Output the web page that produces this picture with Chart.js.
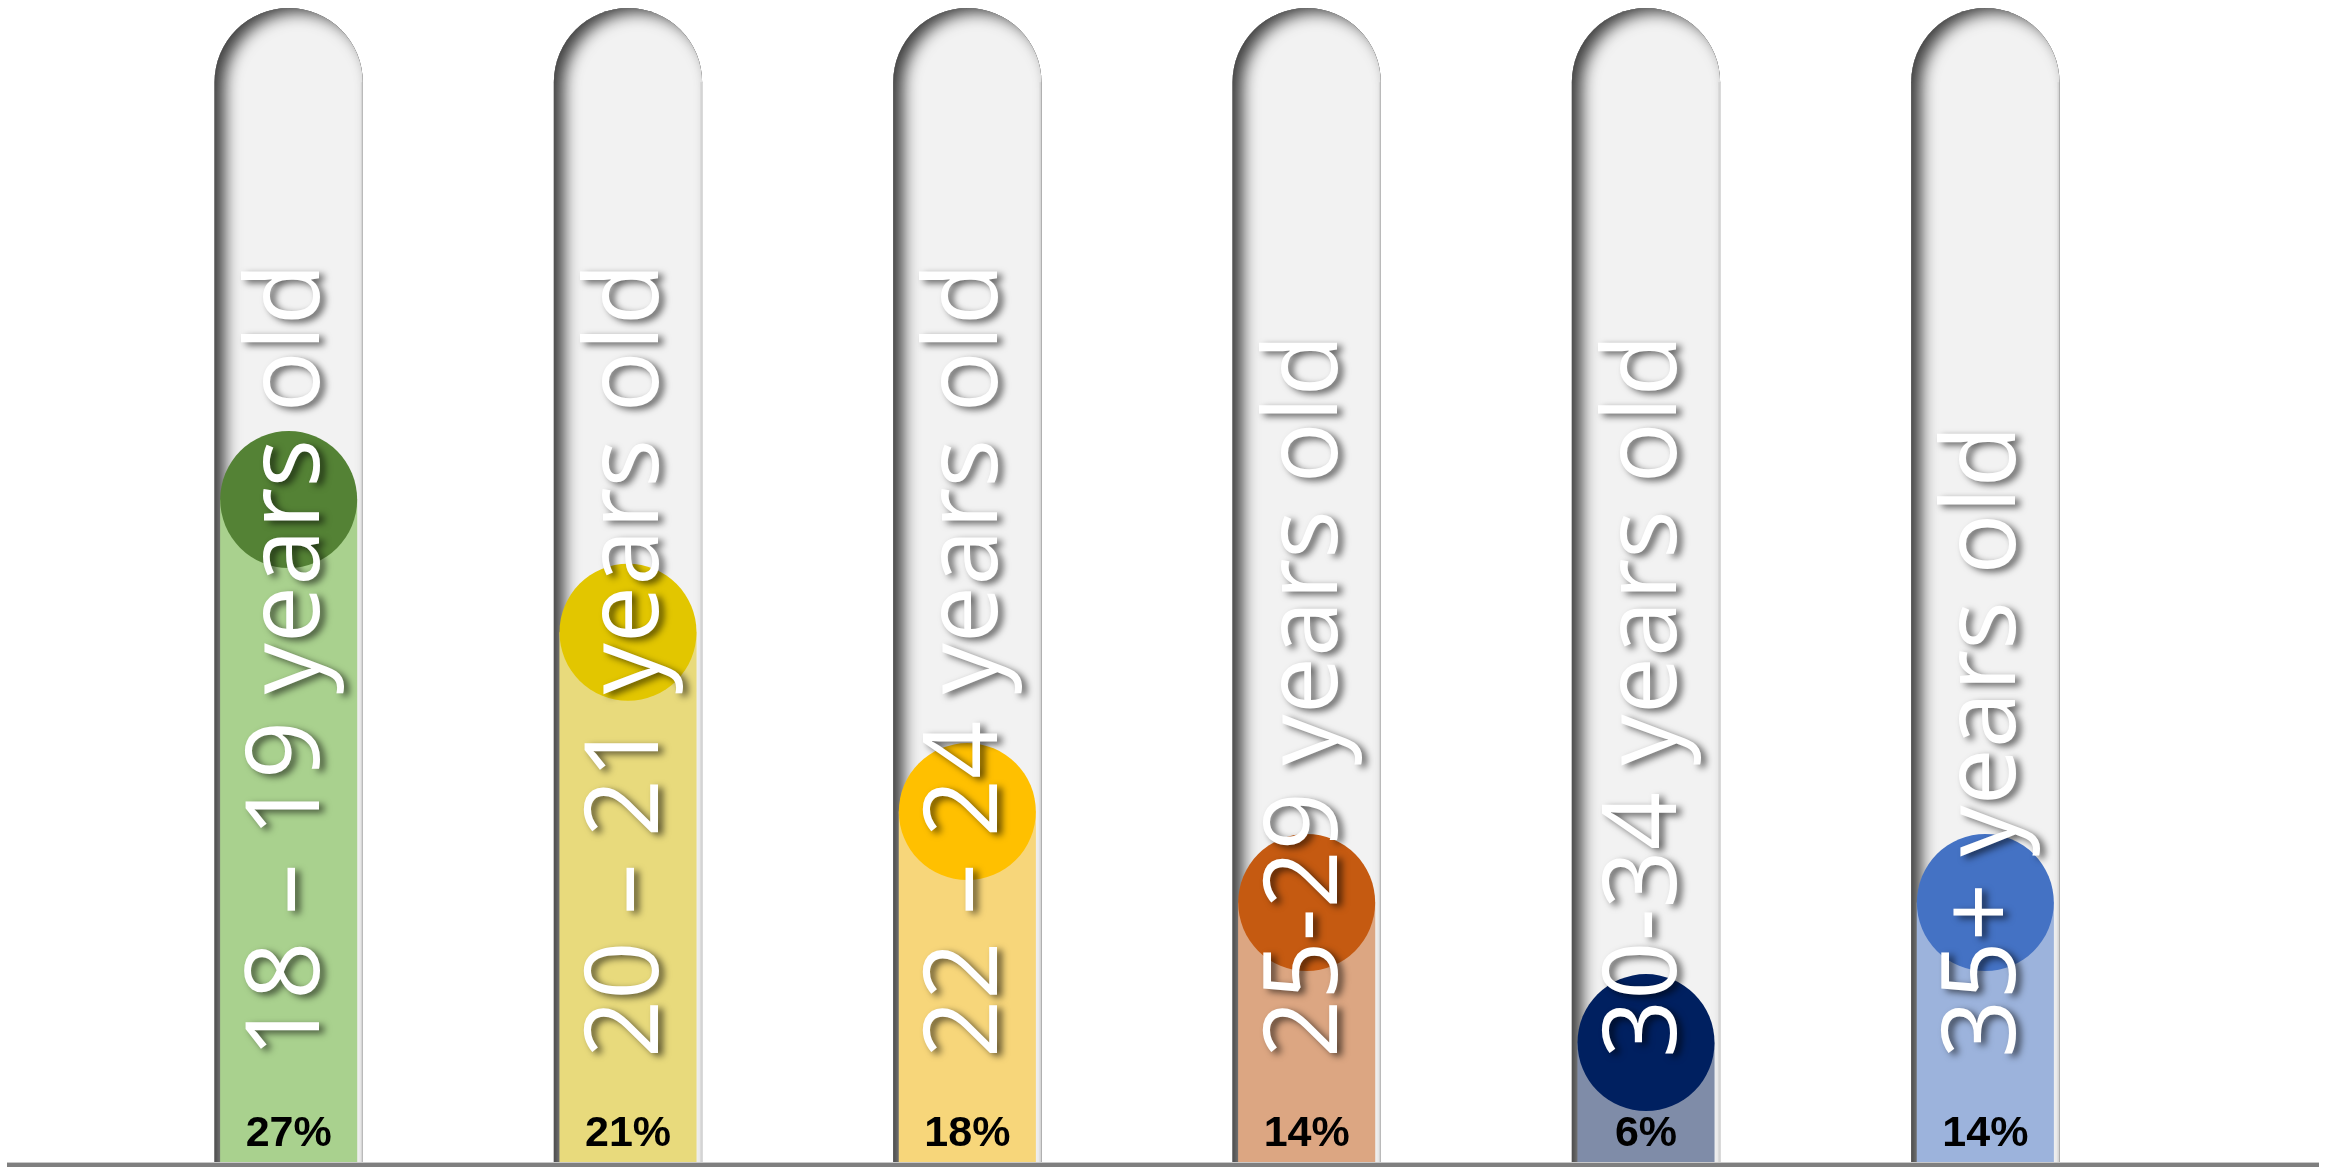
<!DOCTYPE html>
<html><head><meta charset="utf-8">
<script src="https://cdn.jsdelivr.net/npm/chart.js@4.4.0/dist/chart.umd.min.js"></script>
<style>html,body{margin:0;padding:0;background:#fff;overflow:hidden}canvas{display:block}</style>
</head><body>
<canvas id="c" width="2338" height="1167"></canvas>
<script>
// ---- data ----
const categories = ['18 – 19 years old', '20 – 21 years old', '22 – 24 years old', '25-29 years old', '30-34 years old', '35+ years old'];
const shareLabels = ['27%', '21%', '18%', '14%', '6%', '14%'];
const fillLevels = [27, 21.6, 14.3, 10.6, 4.9, 10.6];
const tubeLevels = [47, 47, 47, 47, 47, 47];
const fillColors = ['#a9d18e', '#e8da7c', '#f7d67a', '#dca682', '#7f8ca8', '#9cb3dc'];
const dotColors = ['#548235', '#e2c600', '#ffc000', '#c55a11', '#002060', '#4472c4'];

function tubePath(ctx, x, y, w, base) {
  const r = w / 2;
  ctx.moveTo(x - r, base);
  ctx.lineTo(x - r, y + r);
  ctx.arc(x, y + r, r, Math.PI, 0);
  ctx.lineTo(x + r, base);
  ctx.closePath();
}

const innerShadow = {
  id: 'innerShadow',
  afterDatasetDraw(chart, args) {
    if (args.index !== 0) return;
    const ctx = chart.ctx;
    args.meta.data.forEach(el => {
      const p = el.getProps(['x', 'y', 'base', 'width'], true);
      ctx.save();
      ctx.beginPath();
      tubePath(ctx, p.x, p.y, p.width, p.base);
      ctx.clip();
      ctx.beginPath();
      ctx.rect(-5000, -5000, 10000, 10000);
      tubePath(ctx, p.x, p.y, p.width, p.base + 200);
      ctx.shadowColor = 'rgba(0,0,0,0.75)';
      ctx.shadowBlur = 16;
      ctx.shadowOffsetX = 10;
      ctx.shadowOffsetY = 4;
      ctx.fillStyle = '#000';
      ctx.fill('evenodd');
      ctx.restore();
      // faint right edge
      ctx.save();
      ctx.fillStyle = 'rgba(0,0,0,0.06)';
      ctx.fillRect(p.x + p.width / 2 - 2, p.y + p.width / 2, 2, p.base - p.y - p.width / 2);
      ctx.restore();
    });
  }
};

const labelsPlugin = {
  id: 'labelsPlugin',
  afterDatasetsDraw(chart) {
    const ctx = chart.ctx;
    const meta = chart.getDatasetMeta(0);
    meta.data.forEach((el, i) => {
      const x = el.x;
      ctx.save();
      ctx.translate(x + 30, 1058);
      ctx.rotate(-Math.PI / 2);
      ctx.font = '102px "Open Sans"';
      ctx.textAlign = 'left';
      ctx.textBaseline = 'alphabetic';
      ctx.fillStyle = '#ffffff';
      ctx.shadowColor = 'rgba(0,0,0,0.6)';
      ctx.shadowBlur = 7;
      ctx.shadowOffsetX = 5;
      ctx.shadowOffsetY = 3;
      ctx.fillText(categories[i], 0, 0);
      ctx.restore();

      ctx.save();
      ctx.font = 'bold 43px "Liberation Sans"';
      ctx.textAlign = 'center';
      ctx.textBaseline = 'middle';
      ctx.fillStyle = '#000000';
      ctx.fillText(shareLabels[i], x, 1134);
      ctx.restore();
    });
  },
  afterDraw(chart) {
    const ctx = chart.ctx;
    ctx.save();
    ctx.fillStyle = '#c8c8c8';
    ctx.fillRect(7, 1162, 2312, 1);
    ctx.fillStyle = '#7f7f7f';
    ctx.fillRect(7, 1163, 2312, 4);
    ctx.restore();
  }
};

function draw() {
  new Chart(document.getElementById('c'), {
    type: 'bar',
    data: {
      labels: categories,
      datasets: [
        { type: 'bar', data: tubeLevels, backgroundColor: '#f2f2f2', barPercentage: 0.437, categoryPercentage: 1,
          borderRadius: { topLeft: 74, topRight: 74, bottomLeft: 0, bottomRight: 0 }, borderSkipped: false, grouped: false, order: 3 },
        { type: 'bar', data: fillLevels, backgroundColor: fillColors, barPercentage: 0.404, categoryPercentage: 1,
          grouped: false, order: 2 },
        { type: 'line', data: fillLevels, showLine: false, pointRadius: 68.5, pointHoverRadius: 68.5,
          pointBackgroundColor: dotColors, pointBorderWidth: 0, clip: false, order: 1 }
      ]
    },
    options: {
      responsive: false,
      animation: false,
      events: [],
      layout: { autoPadding: false, padding: { left: 119, right: 183, top: 8, bottom: 4 } },
      plugins: { legend: { display: false }, tooltip: { enabled: false } },
      scales: {
        x: { display: false, offset: true },
        y: { display: false, min: 0, max: 47 }
      }
    },
    plugins: [innerShadow, labelsPlugin]
  });
}
if (document.fonts && document.fonts.load) {
  Promise.all([document.fonts.load('102px "Open Sans"'), document.fonts.load('bold 43px "Liberation Sans"')]).then(draw, draw);
} else { draw(); }
</script>
</body></html>
